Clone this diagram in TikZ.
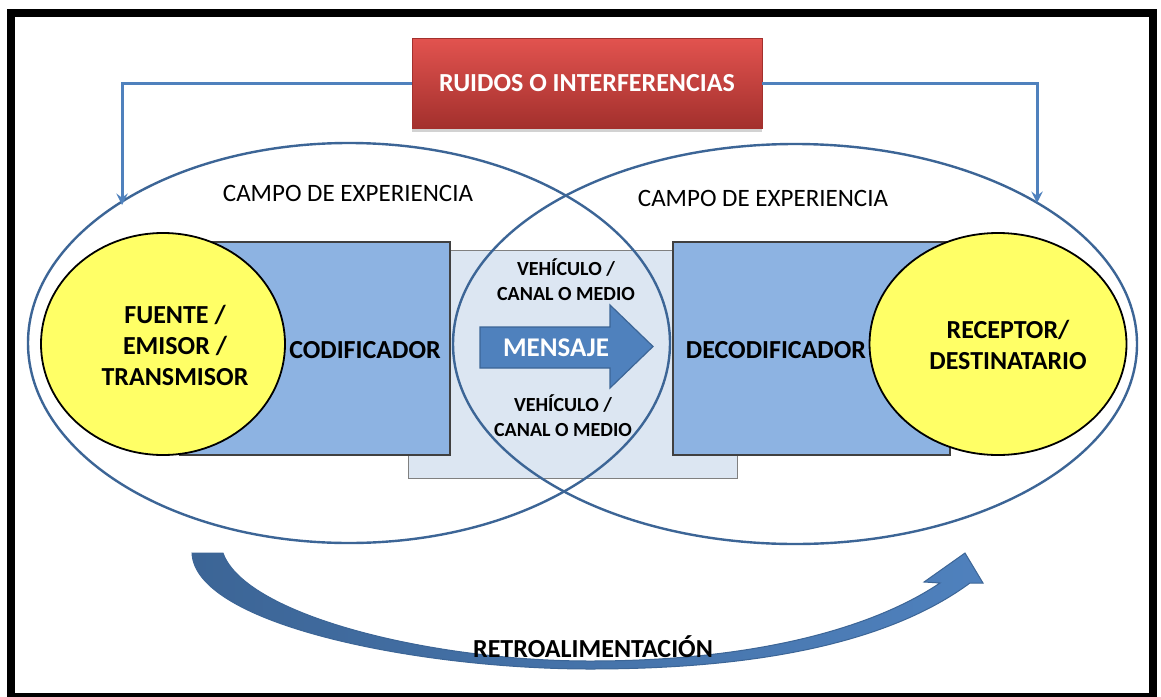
\documentclass[tikz,border=0pt]{standalone}
\usepackage{fontspec}
\setmainfont{Carlito}
\usetikzlibrary{shapes.geometric,shadows}
\definecolor{azulLinea}{HTML}{4F81BD}
\definecolor{azulBorde}{HTML}{3C6596}
\definecolor{azulCaja}{HTML}{8DB3E2}
\definecolor{azulCanal}{HTML}{DCE6F2}
\definecolor{amarillo}{HTML}{FFFF66}
\definecolor{rojoClaro}{HTML}{E2534F}
\definecolor{rojoOscuro}{HTML}{A3302D}

\begin{document}
\begin{tikzpicture}[x=0.5pt,y=-0.5pt,
  campo/.style={ellipse,draw=azulBorde,line width=1.2pt},
  caja/.style={rectangle,draw=black!75,fill=azulCaja,line width=0.6pt},
  polo/.style={ellipse,draw=black,fill=amarillo,line width=0.9pt},
  rotulo/.style={font=\fontsize{13}{15.5}\selectfont\bfseries,align=center},
  canalTxt/.style={font=\fontsize{10}{12.5}\selectfont\bfseries,align=center},
  campoTxt/.style={font=\fontsize{12.5}{14}\selectfont},
  conector/.style={-stealth,draw=azulLinea,line width=1.5pt}]
\useasboundingbox (0,0) rectangle (1161,696);
\fill[white] (0,0) rectangle (1161,696);
\draw[line width=4pt] (11,13) rectangle (1153,697);

\node[rectangle,draw=black!50,fill=azulCanal,minimum width=164.5pt,minimum height=114pt] (canal) at (572.5,364) {};

\node[campo,minimum width=321pt,minimum height=200pt] (campoEmisor) at (349,343) {};
\node[campo,minimum width=342pt,minimum height=200pt] (campoReceptor) at (795,344) {};

\node[caja,minimum width=135pt,minimum height=106.5pt] (codCaja) at (315,348.5) {};
\node[caja,minimum width=138.5pt,minimum height=106.5pt] (decodCaja) at (811.5,348.5) {};
\node[polo,minimum width=122pt,minimum height=111pt] (fuenteElipse) at (163,344) {};
\node[polo,minimum width=128.5pt,minimum height=111pt] (receptorElipse) at (998,344) {};

\node[rotulo] (fuente) at (175,345) {FUENTE /\\ EMISOR /\\ TRANSMISOR};
\node[rotulo] (receptor) at (1008,345) {RECEPTOR/\\ DESTINATARIO};
\node[rotulo] (codificador) at (365,350) {CODIFICADOR};
\node[rotulo] (decodificador) at (776,350) {DECODIFICADOR};

\node[campoTxt] (campoTxtE) at (348,193) {CAMPO DE EXPERIENCIA};
\node[campoTxt] (campoTxtR) at (763,198) {CAMPO DE EXPERIENCIA};

\node[canalTxt] (vehiculoSup) at (566,280) {VEHÍCULO /\\ CANAL O MEDIO};
\node[canalTxt] (vehiculoInf) at (563,416) {VEHÍCULO /\\ CANAL O MEDIO};

\draw[fill=azulLinea,draw=azulBorde,line width=0.6pt]
  (480,327) -- (610,327) -- (610,305) -- (653,346.5) -- (610,388) -- (610,368) -- (480,368) -- cycle;
\node[font=\fontsize{13.5}{16}\selectfont\bfseries,text=white] (mensaje) at (556,348) {MENSAJE};

\node[rectangle,draw=rojoOscuro,top color=rojoClaro,bottom color=rojoOscuro,
  minimum width=175pt,minimum height=45pt,
  drop shadow={opacity=0.35,shadow xshift=0pt,shadow yshift=-2pt},
  text=white,font=\fontsize{13}{15}\selectfont\bfseries] (ruido) at (587,83) {RUIDOS O INTERFERENCIAS};

\coordinate (entradaE) at (122,205);
\coordinate (entradaR) at (1037,203);
\draw[conector] (ruido.west) -| (entradaE);
\draw[conector] (ruido.east) -| (entradaR);

\shade[left color=azulBorde,right color=azulLinea,draw=azulBorde,line width=0.5pt]
  (192,553) .. controls (195,625) and (420,669) .. (590,669)
  .. controls (760,669) and (890,642) .. (970,583)
  -- (983,583) -- (965,553) -- (924,582) -- (940,583)
  .. controls (870,630) and (750,661) .. (590,661)
  .. controls (430,661) and (245,615) .. (223,553) -- cycle;
\node[font=\fontsize{13}{15}\selectfont\bfseries] (retro) at (593,647) {RETROALIMENTACIÓN};
\end{tikzpicture}
\end{document}
